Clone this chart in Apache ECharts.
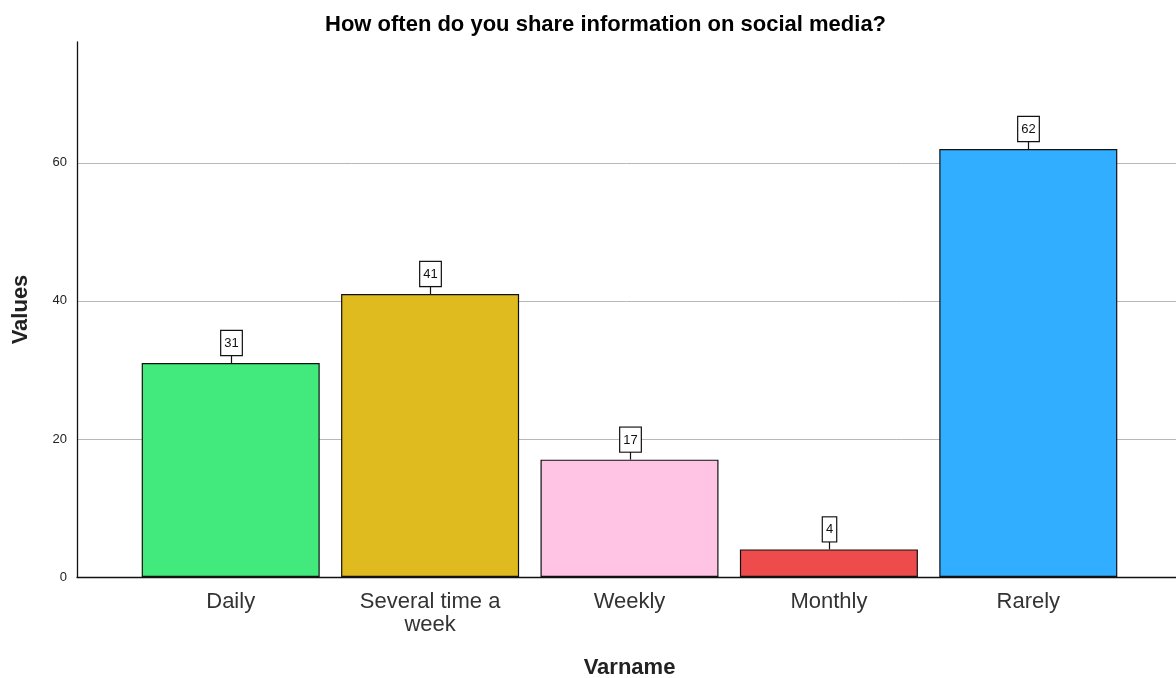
<!DOCTYPE html>
<html><head><meta charset="utf-8">
<script src="https://cdn.jsdelivr.net/npm/echarts@6/dist/echarts.min.js"></script>
<style>html,body{margin:0;padding:0;background:#fff}#c{width:1176px;height:678px}</style>
</head><body><div id="c"></div>
<script>
const categories = ['Daily', 'Several time a\nweek', 'Weekly', 'Monthly', 'Rarely'];
const values = [31, 41, 17, 4, 62];
const colors = ['#42EA7D', '#E0BB20', '#FFC4E3', '#EE4B4C', '#31AEFF'];
const yTicks = [0, 20, 40, 60];
const yMax = 77.5;
const FONT = '"Liberation Sans", Arial, sans-serif';

const chart = echarts.init(document.getElementById('c'), null, {renderer: 'canvas'});
chart.setOption({
  animation: false,
  title: {
    text: 'How often do you share information on social media?',
    left: 320, top: 9,
    textStyle: {fontFamily: FONT, fontSize: 22, fontWeight: 'bold', color: '#000'}
  },
  grid: [
    {left: 77, right: 0, top: 42, bottom: 101, containLabel: false, outerBoundsMode: 'none'},
    {left: 131, right: 48, top: 42, bottom: 101, containLabel: false, outerBoundsMode: 'none'}
  ],
  xAxis: [
    {gridIndex: 0, type: 'value', min: 0, max: 1, show: true,
     axisLine: {show: true, lineStyle: {color: '#111', width: 1.3}},
     axisTick: {show: false}, axisLabel: {show: false}, splitLine: {show: false}},
    {gridIndex: 1, type: 'category', data: categories,
     axisLine: {show: false}, axisTick: {show: false},
     axisLabel: {fontFamily: FONT, fontSize: 22, color: '#333', margin: 13, lineHeight: 23, interval: 0},
     name: 'Varname', nameLocation: 'middle', nameGap: 80,
     nameTextStyle: {fontFamily: FONT, fontSize: 22, fontWeight: 'bold', color: '#222'}}
  ],
  yAxis: [
    {gridIndex: 0, type: 'value', min: 0, max: yMax, interval: 20,
     axisLine: {show: true, lineStyle: {color: '#111', width: 1.3}},
     axisTick: {show: false},
     axisLabel: {fontFamily: FONT, fontSize: 13, color: '#222', margin: 10, showMaxLabel: false,
       formatter: v => yTicks.includes(v) ? String(v) : ''},
     splitLine: {show: true, showMinLine: false, showMaxLine: false, lineStyle: {color: '#b8b8b8', width: 1}},
     name: 'Values', nameLocation: 'middle', nameGap: 45, nameRotate: 90,
     nameTextStyle: {fontFamily: FONT, fontSize: 22, fontWeight: 'bold', color: '#222'}},
    {gridIndex: 1, type: 'value', min: 0, max: yMax, show: false, splitLine: {show: false}}
  ],
  series: [
    {type: 'bar', xAxisIndex: 1, yAxisIndex: 1, barWidth: 178,
     data: values.map((v, i) => ({value: v, itemStyle: {color: colors[i]}})),
     itemStyle: {borderColor: '#111', borderWidth: 1.2}, z: 2},
    {type: 'custom', xAxisIndex: 1, yAxisIndex: 1, z: 5,
     data: values.map((v, i) => [i, v]),
     renderItem: function (params, api) {
       const p = api.coord([api.value(0), api.value(1)]);
       const x = Math.round(p[0]) + 0.5;
       return {type: 'group', children: [
         {type: 'line', shape: {x1: x, y1: p[1], x2: x, y2: p[1] - 8},
          style: {stroke: '#111', lineWidth: 1.2}},
         {type: 'text', style: {text: String(api.value(1)), x: x, y: p[1] - 8,
           align: 'center', verticalAlign: 'bottom',
           font: '13px ' + FONT, fill: '#111',
           backgroundColor: '#fff', borderColor: '#111', borderWidth: 1.2,
           padding: [6, 3, 5, 3]}}
       ]};
     }}
  ]
});
</script></body></html>
